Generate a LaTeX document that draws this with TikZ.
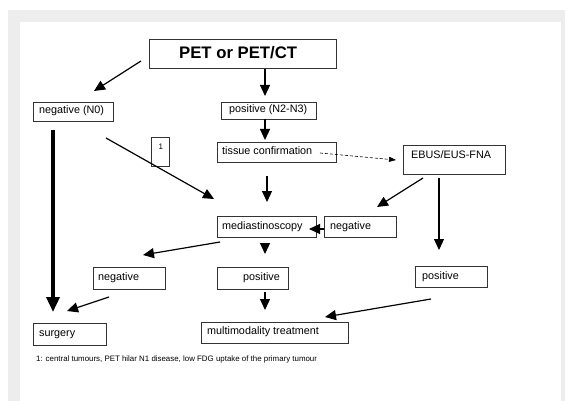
\documentclass[tikz,border=0pt]{standalone}
\usepackage{fontspec}
\setmainfont{Liberation Sans}
\usetikzlibrary{arrows.meta}
\begin{document}
\begin{tikzpicture}[x=1pt,y=-1pt,
  box/.style={draw=black!80, line width=0.8pt, inner sep=0pt, anchor=north west},
  lbl/.style={anchor=base west, inner sep=0pt, font=\fontsize{10.8}{12}\selectfont},
  arr/.style={line width=1.2pt, -{Triangle[length=11pt,width=10pt]}},
  thickarr/.style={line width=3.5pt, -{Triangle[length=15pt,width=13pt]}},
  dasharr/.style={line width=0.6pt, dashed, dash pattern=on 3pt off 2pt, -{Triangle[length=7pt,width=5pt]}},
]
\useasboundingbox (0,0) rectangle (565,401);
\fill[black!7] (8,10) rectangle (565,401);
\fill[white] (20,22) rectangle (561,401);

% boxes
\node[box, minimum width=187pt, minimum height=29pt] (pet) at (149,39) {};
\node[box, minimum width=80pt, minimum height=19pt] (n0) at (33,102) {};
\node[box, minimum width=95pt, minimum height=17pt] (pos) at (221,102) {};
\node[box, minimum width=119pt, minimum height=20pt] (tis) at (217,142) {};
\node[box, minimum width=18pt, minimum height=29pt] (one) at (151,137) {};
\node[box, minimum width=102pt, minimum height=29pt] (ebus) at (403,145) {};
\node[box, minimum width=99pt, minimum height=21pt] (med) at (217,216) {};
\node[box, minimum width=72pt, minimum height=21pt] (negm) at (324,216) {};
\node[box, minimum width=72pt, minimum height=22pt] (negl) at (93,267) {};
\node[box, minimum width=71pt, minimum height=22pt] (posm) at (217,267) {};
\node[box, minimum width=72pt, minimum height=21pt] (posr) at (415,266) {};
\node[box, minimum width=73pt, minimum height=22pt] (surg) at (33,323) {};
\node[box, minimum width=147pt, minimum height=21pt] (multi) at (201,322) {};

% texts
\node[lbl, font=\fontsize{16.7}{18}\selectfont\bfseries] (pett) at (179,58.3) {PET or PET/CT};
\node[lbl] (n0t) at (39,113.3) {negative (N0)};
\node[lbl] (post) at (229,112.7) {positive (N2-N3)};
\node[lbl] (tist) at (222,154.3) {tissue confirmation};
\node[lbl, font=\fontsize{8}{9}\selectfont] (onet) at (158.5,149.3) {1};
\node[lbl] (ebust) at (411,158.7) {EBUS/EUS-FNA};
\node[lbl] (medt) at (222,229) {mediastinoscopy};
\node[lbl] (negmt) at (330,229) {negative};
\node[lbl] (neglt) at (98,280) {negative};
\node[lbl] (posmt) at (243,280) {positive};
\node[lbl] (posrt) at (422,279) {positive};
\node[lbl] (surgt) at (39,336) {surgery};
\node[lbl] (multit) at (207,334) {multimodality treatment};
\node[anchor=base west, inner sep=0pt, font=\fontsize{7.9}{9}\selectfont] (foot) at (36,361.7)
  {1: central tumours, PET hilar N1 disease, low FDG uptake of the primary tumour};

% connector end points
\coordinate (a1s) at (141,61);  \coordinate (a1e) at (94,91);
\coordinate (a2s) at (265,69);  \coordinate (a2e) at (265,96);
\coordinate (a3s) at (265,119); \coordinate (a3e) at (265,140);
\coordinate (a4s) at (53,130);  \coordinate (a4e) at (53,312);
\coordinate (a5s) at (106,138); \coordinate (a5e) at (214,199);
\coordinate (a6s) at (267,176); \coordinate (a6e) at (267,202);
\coordinate (a7s) at (320,153); \coordinate (a7e) at (396,160);
\coordinate (a8s) at (423,178); \coordinate (a8e) at (377,207);
\coordinate (a9s) at (439,178); \coordinate (a9e) at (439,250);
\coordinate (a10s) at (324,229); \coordinate (a10e) at (309,229);
\coordinate (a11s) at (220,242); \coordinate (a11e) at (143,255);
\coordinate (a12s) at (265,243); \coordinate (a12e) at (265,254);
\coordinate (a13s) at (109,297); \coordinate (a13e) at (67,311);
\coordinate (a14s) at (265,292); \coordinate (a14e) at (265,310);
\coordinate (a15s) at (431,299); \coordinate (a15e) at (325,317);

\draw[arr] (a1s) -- (a1e);
\draw[arr] (a2s) -- (a2e);
\draw[arr] (a3s) -- (a3e);
\draw[thickarr] (a4s) -- (a4e);
\draw[arr] (a5s) -- (a5e);
\draw[arr] (a6s) -- (a6e);
\draw[dasharr] (a7s) -- (a7e);
\draw[arr] (a8s) -- (a8e);
\draw[arr] (a9s) -- (a9e);
\draw[arr] (a10s) -- (a10e);
\draw[arr] (a11s) -- (a11e);
\draw[arr] (a12s) -- (a12e);
\draw[arr] (a13s) -- (a13e);
\draw[arr] (a14s) -- (a14e);
\draw[arr] (a15s) -- (a15e);
\end{tikzpicture}
\end{document}
